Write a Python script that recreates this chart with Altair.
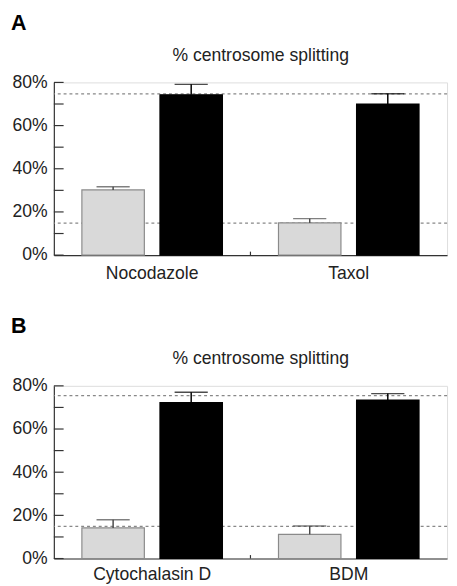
import altair as alt
import pandas as pd

FONT = "Liberation Sans"

series = ["Control", "Treated"]
title_text = "% centrosome splitting"

cats_A = ["Nocodazole", "Taxol"]
control_A = [30.2, 14.9]
control_top_A = [31.7, 16.9]
treated_A = [74.3, 70.0]
treated_top_A = [79.1, 74.7]
ref_A = [74.7, 14.8]

cats_B = ["Cytochalasin D", "BDM"]
control_B = [14.2, 11.2]
control_top_B = [18.0, 15.1]
treated_B = [72.3, 73.4]
treated_top_B = [77.0, 76.4]
ref_B = [75.5, 14.9]

y_ticks = [0, 10, 20, 30, 40, 50, 60, 70, 80]
y_labels = [0, 20, 40, 60, 80]

W, H = 403, 177


def panel(letter, cats, ctrl, ctrl_top, trt, trt_top, refs, xpad):
    rows = []
    for i, c in enumerate(cats):
        rows.append({"category": c, "series": series[0], "value": ctrl[i], "upper": ctrl_top[i]})
        rows.append({"category": c, "series": series[1], "value": trt[i], "upper": trt_top[i]})
    df = pd.DataFrame(rows)

    xenc = alt.X("category:N", sort=cats,
                 scale=alt.Scale(domain=cats, paddingInner=0, paddingOuter=0),
                 axis=alt.Axis(title=None, ticks=False, labelAngle=0, labelPadding=xpad,
                               labelFontSize=18, labelColor="#222", labelFont=FONT,
                               domainColor="#333", domainWidth=1.2))
    yenc = alt.Y("value:Q", scale=alt.Scale(domain=[0, 80], nice=False, padding=0),
                 axis=alt.Axis(title=None, values=y_labels, ticks=False, grid=False,
                               labelExpr="datum.value + '%'", labelPadding=7,
                               labelFontSize=18, labelColor="#222", labelFont=FONT,
                               domainColor="#333", domainWidth=1.2))
    xoff = alt.XOffset("series:N", sort=series,
                       scale=alt.Scale(domain=series, paddingInner=0.2, paddingOuter=0.359))
    fill = alt.Fill("series:N", scale=alt.Scale(domain=series, range=["#d9d9d9", "#000000"]), legend=None)
    strk = alt.Stroke("series:N", scale=alt.Scale(domain=series, range=["#8a8a8a", "#000000"]), legend=None)
    errc = alt.Color("series:N", scale=alt.Scale(domain=series, range=["#4a4a4a", "#000000"]), legend=None)

    base = alt.Chart(df)
    bars = base.mark_bar(strokeWidth=1.2).encode(x=xenc, y=yenc, xOffset=xoff, fill=fill, stroke=strk)
    err = base.mark_rule(strokeWidth=1.5).encode(x=xenc, xOffset=xoff, y="value:Q", y2="upper:Q", color=errc)
    cap = base.mark_tick(size=34, thickness=1.5).encode(x=xenc, xOffset=xoff, y="upper:Q", color=errc)

    ref_df = pd.DataFrame({"ref": refs})
    refl = alt.Chart(ref_df).mark_rule(color="#888888", strokeDash=[3, 3], strokeWidth=1.2).encode(y="ref:Q")

    tick_df = pd.DataFrame({"t": y_ticks})
    yt = alt.Chart(tick_df).mark_rule(color="#333333", strokeWidth=1.2).encode(
        y="t:Q", x=alt.value(0), x2=alt.value(10))

    mid_df = pd.DataFrame({"category": [cats[1]], "lo": [0.0], "hi": [1.6]})
    mid = alt.Chart(mid_df).mark_rule(color="#333333", strokeWidth=1.2).encode(
        x=alt.X("category:N", sort=cats, bandPosition=0,
                scale=alt.Scale(domain=cats, paddingInner=0, paddingOuter=0)),
        y="lo:Q", y2="hi:Q")

    lbl_df = pd.DataFrame({"letter": [letter], "title": [title_text]})
    lbl = alt.Chart(lbl_df).mark_text(fontSize=22, fontWeight="bold", font=FONT, align="left",
                                      baseline="middle", color="#000").encode(
        text="letter:N", x=alt.value(-44), y=alt.value(-61))
    ttl = alt.Chart(lbl_df).mark_text(fontSize=18, font=FONT, align="center",
                                      baseline="middle", color="#222").encode(
        text="title:N", x=alt.value(212), y=alt.value(-27))

    return alt.layer(refl, bars, err, cap, yt, mid, lbl, ttl).properties(width=W, height=H)


pA = panel("A", cats_A, control_A, control_top_A, treated_A, treated_top_A, ref_A, 10)
pB = panel("B", cats_B, control_B, control_top_B, treated_B, treated_top_B, ref_B, 7)

chart = alt.vconcat(pA, pB, spacing=32).properties(
    padding={"left": 2, "top": -4, "right": 0, "bottom": 0}
).configure_view(stroke=None).configure(font=FONT)

chart.save("out.html", embed_options={"renderer": "svg", "actions": False})
